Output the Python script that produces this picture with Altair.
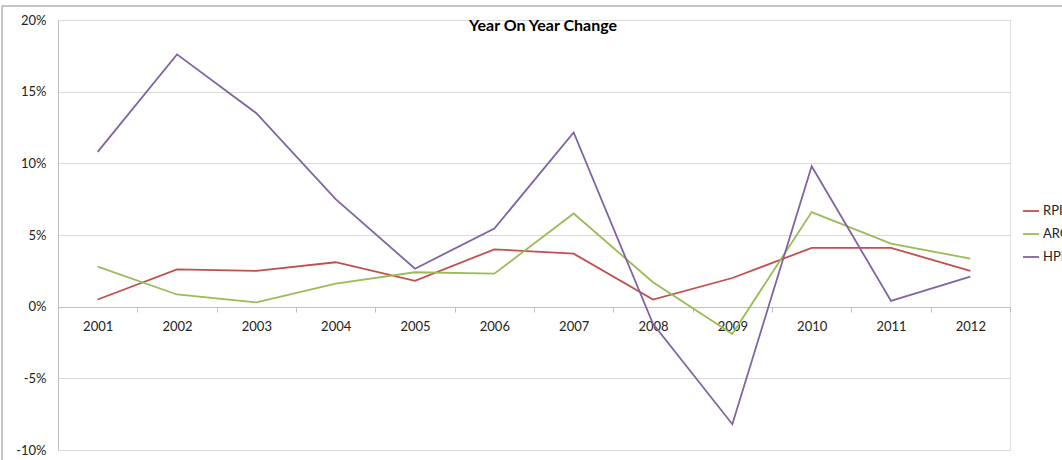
import altair as alt
import pandas as pd

years = ["2001", "2002", "2003", "2004", "2005", "2006", "2007", "2008", "2009", "2010", "2011", "2012"]
rpi = [0.5, 2.6, 2.5, 3.1, 1.8, 4.0, 3.7, 0.5, 2.0, 4.1, 4.1, 2.5]
arg = [2.8, 0.85, 0.3, 1.6, 2.4, 2.3, 6.5, 1.7, -1.9, 6.6, 4.4, 3.35]
hpi = [10.8, 17.6, 13.5, 7.5, 2.65, 5.45, 12.15, -1.2, -8.2, 9.8, 0.4, 2.1]
series = ["RPI", "ARG", "HPI"]
colors = ["#C0504D", "#9BBB59", "#8064A2"]
y_ticks = [-10, -5, 0, 5, 10, 15, 20]

rows = []
for name, vals in zip(series, [rpi, arg, hpi]):
    for yr, v in zip(years, vals):
        rows.append({"year": yr, "value": v, "series": name})
df = pd.DataFrame(rows)

FONT = "Lato"
W, H = 952, 430

x_enc = alt.X(
    "year:N",
    sort=years,
    bandPosition=0.5,
    scale=alt.Scale(type="band", paddingInner=0, paddingOuter=0),
    axis=alt.Axis(
        title=None,
        orient="bottom",
        offset=-143,
        labelAngle=0,
        labelFont=FONT,
        labelFontSize=13,
        labelColor="#222222",
        labelPadding=8,
        domainColor="#BFBFBF",
        tickColor="#BFBFBF",
        tickSize=5,
        tickBand="extent",
        grid=False,
    ),
)

y_enc = alt.Y(
    "value:Q",
    scale=alt.Scale(domain=[-10, 20], nice=False, zero=False),
    axis=alt.Axis(
        title=None,
        values=y_ticks,
        labelExpr="datum.value + '%'",
        labelFont=FONT,
        labelFontSize=13,
        labelColor="#222222",
        labelPadding=12,
        ticks=False,
        domainColor="#BFBFBF",
        gridColor="#D9D9D9",
        gridWidth=1,
    ),
)

lines = alt.Chart(df).mark_line(strokeWidth=1.8).encode(
    x=x_enc,
    y=y_enc,
    color=alt.Color(
        "series:N",
        sort=series,
        scale=alt.Scale(domain=series, range=colors),
        legend=alt.Legend(
            title=None,
            orient="none",
            legendX=964,
            legendY=182,
            symbolType="stroke",
            symbolSize=260,
            symbolStrokeWidth=1.8,
            labelFont=FONT,
            labelFontSize=13,
            labelColor="#222222",
            rowPadding=7,
            labelOffset=3,
        ),
    ),
)

frame = alt.Chart(pd.DataFrame({"a": [0]})).mark_rect(
    fill=None, stroke="#8C8C8C", strokeWidth=1
).encode(
    x=alt.value(-56), x2=alt.value(1100), y=alt.value(-14), y2=alt.value(500)
)

chart = alt.layer(frame, lines).properties(
    width=W,
    height=H,
    autosize=alt.AutoSizeParams(type="none"),
    padding={"left": 58, "top": 20, "right": 52, "bottom": 10},
    title=alt.TitleParams(
        "Year On Year Change",
        font=FONT,
        fontSize=16,
        fontWeight="bold",
        color="#000000",
        anchor="middle",
        offset=-28,
        dx=9,
    ),
).configure_view(stroke=None).configure(background="white")

chart.save("out.html", embed_options={"renderer": "svg", "actions": False})
